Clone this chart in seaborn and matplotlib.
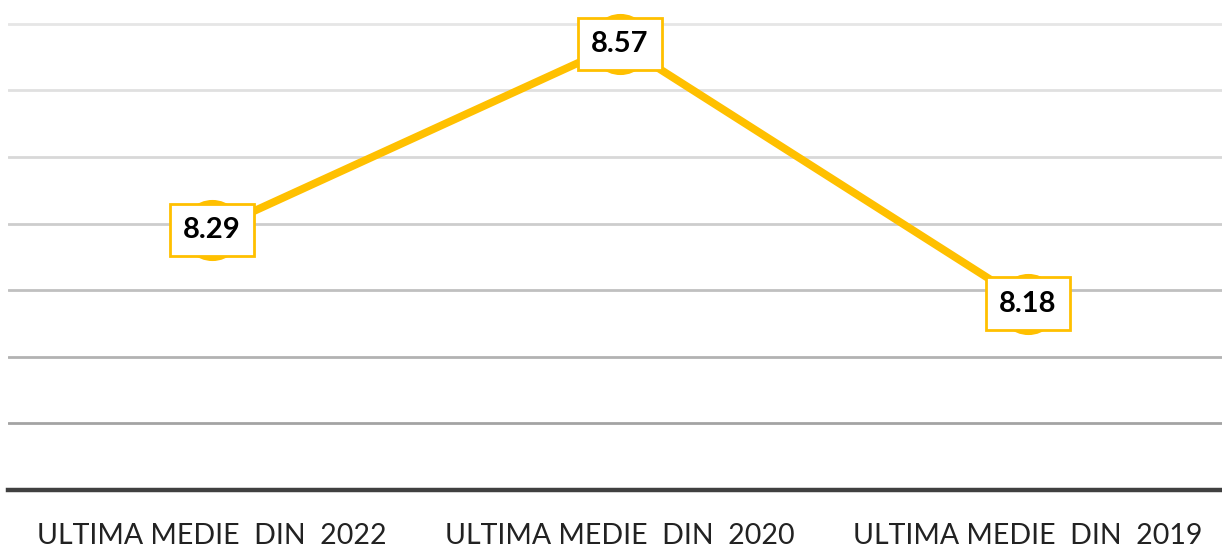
import matplotlib
matplotlib.use("Agg")
import matplotlib.pyplot as plt
import seaborn as sns
import pandas as pd
import numpy as np

categories = ["ULTIMA MEDIE  DIN  2022", "ULTIMA MEDIE  DIN  2020", "ULTIMA MEDIE  DIN  2019"]
values = [8.29, 8.57, 8.18]
value_labels = ["8.29", "8.57", "8.18"]
grid_values = [8.0, 8.1, 8.2, 8.3, 8.4, 8.5, 8.6]

sns.set_theme(style="white")
plt.rcParams['font.family'] = ['Lato', 'DejaVu Sans']

W, H = 1222, 548
fig = plt.figure(figsize=(W / 100, H / 100), dpi=100)
ax = fig.add_axes([8 / W, (H - 490) / H, 1 - 8 / W, 490 / H])

df = pd.DataFrame({"cat": categories, "val": values})
df["x"] = np.arange(len(df))
yellow = "#FFC000"
sns.lineplot(data=df, x="x", y="val", ax=ax, color=yellow, linewidth=5.6,
             marker="o", markersize=44, markeredgewidth=0, zorder=3)

for xi, v, lab in zip(df["x"], df["val"], value_labels):
    ax.text(xi, v, lab, ha="center", va="center", fontsize=21, fontweight="bold",
            color="black", zorder=5,
            bbox=dict(boxstyle="square,pad=0.45", facecolor="white", edgecolor=yellow, linewidth=2.0))

ax.set_xlim(-0.5, (W - 212) / 408)
ax.set_ylim(7.9, 7.9 + 490 / 666.0)
ax.set_yticks(grid_values)
ax.set_yticklabels([])
ax.tick_params(axis="y", length=0)
ax.set_xticks(df["x"])
ax.set_xticklabels(categories, fontsize=20.5, color="#222222")
ax.tick_params(axis="x", length=0, pad=24)
ax.set_xlabel("")
ax.set_ylabel("")

ax.grid(axis="y", linewidth=2.0)
grid_colors = ["#a3a3a3", "#b2b2b2", "#c0c0c0", "#cdcdcd", "#d8d8d8", "#e0e0e0", "#e6e6e6"]
for gl, c in zip(ax.get_ygridlines(), grid_colors):
    gl.set_color(c)
    gl.set_zorder(1)
ax.set_axisbelow(True)

for s in ["top", "right", "left"]:
    ax.spines[s].set_visible(False)
ax.spines["bottom"].set_color("#404040")
ax.spines["bottom"].set_linewidth(3.2)

fig.savefig("out.png", dpi=100)
